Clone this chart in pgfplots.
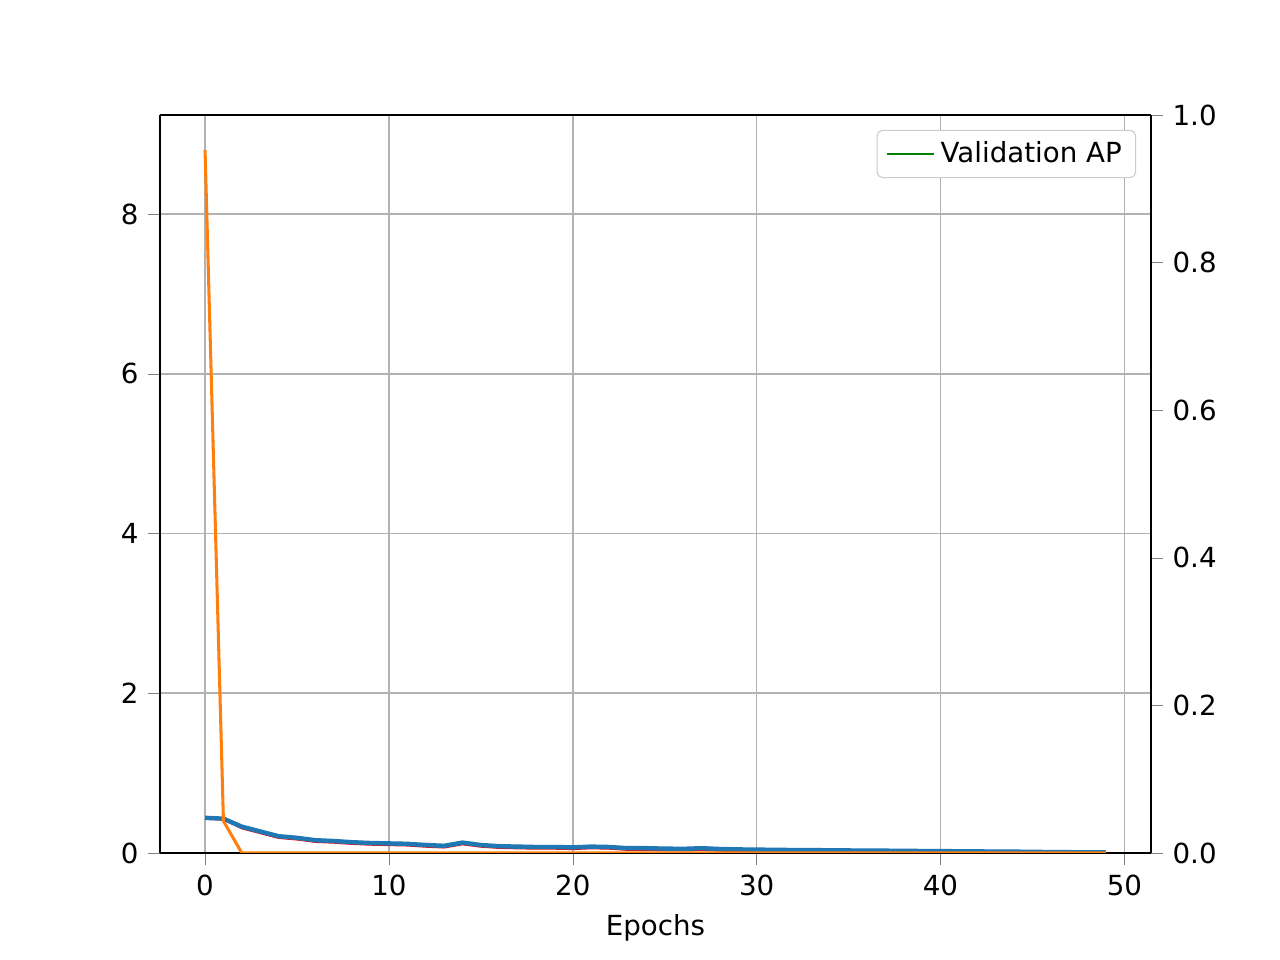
\documentclass[border=0pt]{standalone}
\usepackage{pgfplots}
\pgfplotsset{compat=1.18}
\usepackage{fontspec}
\setmainfont{DejaVu Sans}
\definecolor{mblue}{HTML}{1F77B4}
\definecolor{morange}{HTML}{FF7F0E}
\definecolor{mgreen}{HTML}{008000}
\begin{document}
\begin{tikzpicture}
\path (0,0) rectangle (6.4in,4.8in);
\pgfplotsset{every axis/.style={scale only axis, width=4.955in, height=3.69in, at={(0.8in,0.535in)}, anchor=south west,
  xmin=-2.45, xmax=51.45, tick label style={font=\normalsize}, /pgf/number format/assume math mode=true}}
\begin{axis}[ymin=0, ymax=9.24, xlabel={Epochs}, xtick={0,10,20,30,40,50}, ytick={0,2,4,6,8},
  grid=major, grid style={gray!60, line width=0.6pt}, axis y line*=left, axis x line*=bottom,
  tick align=outside, xlabel style={font=\normalsize}, clip=true]
\addplot[red, line width=0.8pt] coordinates {(0,0.43)(1,0.42)(2,0.31)(3,0.25)(4,0.19)(5,0.17)(6,0.14)(7,0.13)(8,0.115)(9,0.105)(10,0.1)(11,0.095)(12,0.08)(13,0.07)(14,0.11)(15,0.08)(16,0.065)(17,0.06)(18,0.055)(19,0.055)(20,0.05)(21,0.06)(22,0.055)(23,0.04)(24,0.04)(25,0.035)(26,0.033)(27,0.04)(28,0.03)(29,0.025)(30,0.024)(31,0.022)(32,0.02)(33,0.02)(34,0.018)(35,0.016)(36,0.015)(37,0.014)(38,0.012)(39,0.011)(40,0.01)(41,0.01)(42,0.008)(43,0.007)(44,0.007)(45,0.005)(46,0.004)(47,0.003)(48,0.002)(49,0.002)};
\addplot[mblue, line width=1.6pt] coordinates {(0,0.44)(1,0.43)(2,0.33)(3,0.27)(4,0.21)(5,0.19)(6,0.16)(7,0.15)(8,0.135)(9,0.125)(10,0.12)(11,0.115)(12,0.1)(13,0.09)(14,0.13)(15,0.1)(16,0.085)(17,0.08)(18,0.075)(19,0.075)(20,0.07)(21,0.08)(22,0.075)(23,0.06)(24,0.06)(25,0.055)(26,0.052)(27,0.06)(28,0.05)(29,0.045)(30,0.042)(31,0.04)(32,0.037)(33,0.036)(34,0.034)(35,0.032)(36,0.03)(37,0.029)(38,0.027)(39,0.025)(40,0.023)(41,0.022)(42,0.02)(43,0.018)(44,0.017)(45,0.014)(46,0.012)(47,0.01)(48,0.008)(49,0.007)};
\addplot[morange, line width=1.1pt] coordinates {(0,8.8)(1,0.4)(2,0)(3,0)(10,0)(20,0)(30,0)(40,0)(49,0)};
\end{axis}
\begin{axis}[ymin=0, ymax=1, axis y line*=right, axis x line=none, ytick={0,0.2,0.4,0.6,0.8,1.0},
  yticklabel style={/pgf/number format/fixed, /pgf/number format/precision=1, /pgf/number format/fixed zerofill},
  tick align=outside, clip=false,
  legend style={at={(0.985,0.98)}, anchor=north east, font=\normalsize, draw=gray!40, rounded corners=2pt},
  legend cell align=left]
\addplot[mgreen, line width=0.9pt] coordinates {(0,1)(10,1)(20,1)(30,1)(40,1)(49,1)};
\addlegendentry{Validation AP}
\end{axis}
\draw[line width=0.6pt] (0.8in,4.225in) -- (5.755in,4.225in);
\end{tikzpicture}
\end{document}
